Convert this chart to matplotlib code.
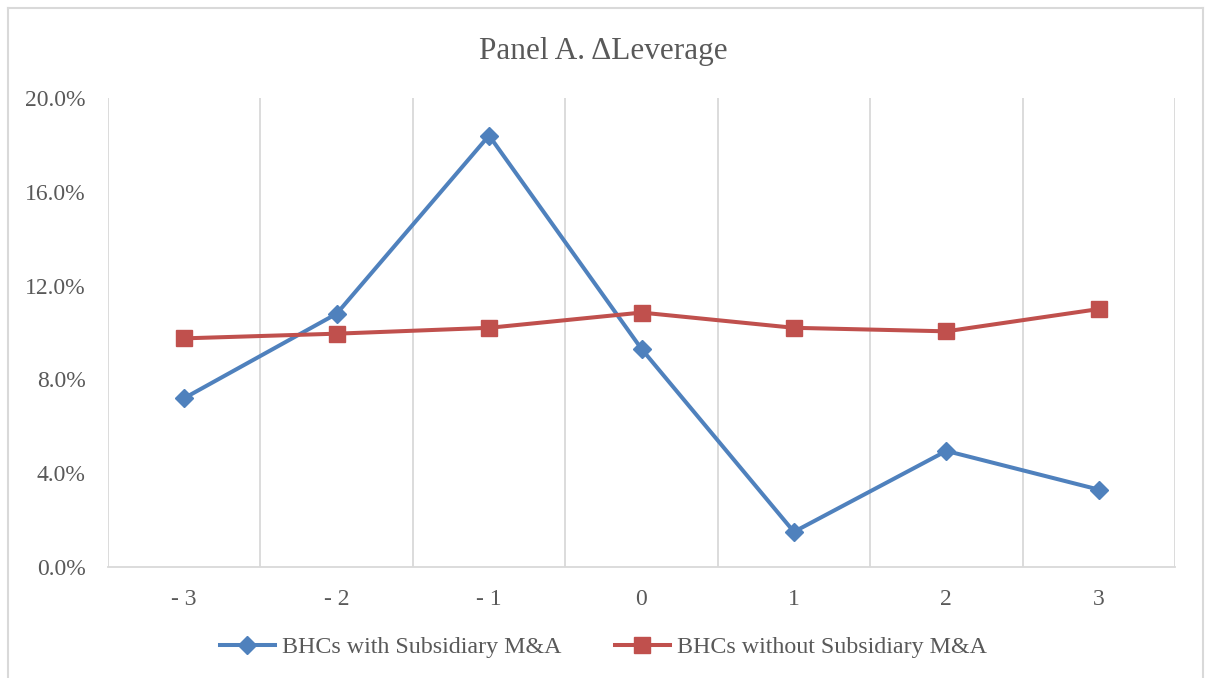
import matplotlib
matplotlib.use("Agg")
import matplotlib.pyplot as plt
from matplotlib.lines import Line2D
from matplotlib.ticker import FuncFormatter

# event years relative to the M&A
years = [-3, -2, -1, 0, 1, 2, 3]
year_labels = ["- 3", "- 2", "- 1", "0", "1", "2", "3"]

# change in leverage, %
with_ma = [7.2, 10.8, 18.4, 9.3, 1.5, 4.95, 3.3]
without_ma = [9.75, 9.95, 10.2, 10.85, 10.2, 10.05, 11.0]

blue = "#4F81BD"
red = "#C0504D"
grid = "#D9D9D9"
txt = "#595959"

plt.rcParams["font.family"] = ["Liberation Serif", "DejaVu Serif"]

fig = plt.figure(figsize=(12.07, 6.78), dpi=100)
ax = fig.add_axes([108/1207, 111/678, 1067/1207, 469/678])

ax.plot(years, with_ma, color=blue, lw=2.9, marker="D", ms=9,
        label="BHCs with Subsidiary M&A", zorder=3)
ax.plot(years, without_ma, color=red, lw=2.9, marker="s", ms=11,
        label="BHCs without Subsidiary M&A", zorder=3)

ax.set_xlim(-3.5, 3.5)
ax.set_ylim(0, 20)
ax.set_yticks([0, 4, 8, 12, 16, 20])
ax.yaxis.set_major_formatter(FuncFormatter(lambda v, p: f"{v:.1f}%"))
ax.set_xticks(years)
ax.set_xticklabels(year_labels)

# vertical gridlines sit between the categories
for b in range(8):
    ax.axvline(-3.5 + b, color=grid, lw=1.3, zorder=1)

for s in ["top", "left", "right"]:
    ax.spines[s].set_visible(False)
ax.spines["bottom"].set_color(grid)
ax.spines["bottom"].set_linewidth(1.3)
ax.tick_params(length=0, labelsize=17, colors=txt)
ax.tick_params(axis="x", pad=16)
ax.tick_params(axis="y", pad=16)

fig.text(0.5, 1 - 51/678, "Panel A. \u0394Leverage", ha="center", va="center",
         fontsize=22.5, color=txt)

fig.legend(loc="center", bbox_to_anchor=(0.5, 1 - 647/678), ncol=2,
           frameon=False, fontsize=17.3, labelcolor=txt, handlelength=2.3,
           handletextpad=0.3, columnspacing=2.2)

# outer chart border
for xs, ys in [([8, 8], [0, 670]), ([8, 1203], [670, 670]), ([1203, 1203], [0, 670])]:
    fig.add_artist(Line2D([x/1207 for x in xs], [y/678 for y in ys],
                          color=grid, lw=1.5))

fig.savefig("out.png", dpi=100)
